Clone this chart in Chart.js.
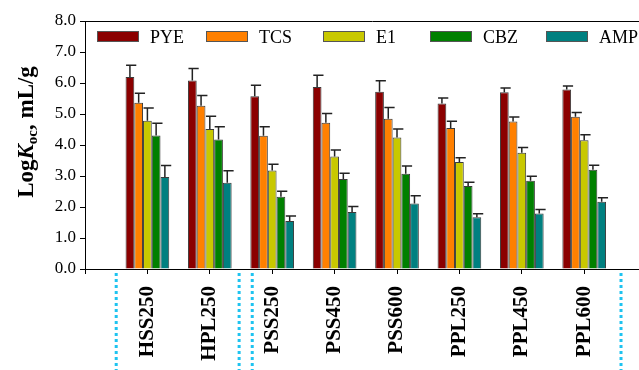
<!DOCTYPE html>
<html>
<head>
<meta charset="utf-8">
<script src="https://cdn.jsdelivr.net/npm/chart.js@4.4.1/dist/chart.umd.min.js"></script>
<style>
  html, body { margin: 0; padding: 0; background: #fff; overflow: hidden; }
  #chart { display: block; }
</style>
</head>
<body>
<canvas id="chart" width="660" height="370"></canvas>
<script>
// samples (an empty slot on each side, like the original axis)
const categories = ['HSS250', 'HPL250', 'PSS250', 'PSS450', 'PSS600', 'PPL250', 'PPL450', 'PPL600'];
const seriesNames = ['PYE', 'TCS', 'E1', 'CBZ', 'AMP'];

const pye = [6.19, 6.08, 5.57, 5.87, 5.72, 5.34, 5.70, 5.79];
const tcs = [5.36, 5.27, 4.30, 4.72, 4.85, 4.55, 4.76, 4.91];
const e1  = [4.78, 4.52, 3.18, 3.63, 4.24, 3.45, 3.75, 4.15];
const cbz = [4.31, 4.18, 2.33, 2.90, 3.07, 2.68, 2.85, 3.20];
const amp = [2.97, 2.78, 1.55, 1.84, 2.11, 1.67, 1.79, 2.17];

const pyeErr = [0.38, 0.39, 0.36, 0.38, 0.35, 0.18, 0.14, 0.11];
const tcsErr = [0.31, 0.33, 0.29, 0.30, 0.36, 0.22, 0.14, 0.14];
const e1Err  = [0.41, 0.41, 0.20, 0.21, 0.28, 0.14, 0.17, 0.18];
const cbzErr = [0.39, 0.41, 0.18, 0.19, 0.25, 0.12, 0.14, 0.15];
const ampErr = [0.37, 0.39, 0.16, 0.18, 0.25, 0.11, 0.13, 0.13];

const yTicks = [0, 1, 2, 3, 4, 5, 6, 7, 8];

// dotted separators below the axis, in category units (0 = left edge slot)
const separators = [0.5, 2.47, 2.68, 8.59];

const colors = ['#8B0000', '#FF8000', '#C8C800', '#008000', '#008080'];
const legendX = [97, 206, 323, 430, 546];

const values = [pye, tcs, e1, cbz, amp];
const errors = [pyeErr, tcsErr, e1Err, cbzErr, ampErr];

const pad = arr => [null, ...arr, null];

const serif = "'Liberation Serif', 'Times New Roman', serif";
Chart.defaults.font.family = serif;
Chart.defaults.color = '#000';

const errorBars = {
  id: 'errorBars',
  afterDatasetsDraw(chart) {
    const ctx = chart.ctx;
    const y = chart.scales.y;
    ctx.save();
    ctx.strokeStyle = '#222';
    ctx.lineWidth = 1.5;
    chart.data.datasets.forEach((ds, i) => {
      const meta = chart.getDatasetMeta(i);
      meta.data.forEach((bar, j) => {
        const v = ds.data[j];
        if (v == null) return;
        const top = y.getPixelForValue(v + ds.err[j]);
        const half = bar.width / 2;
        ctx.beginPath();
        ctx.moveTo(bar.x, bar.y);
        ctx.lineTo(bar.x, top);
        ctx.moveTo(bar.x - half + 0.5, top);
        ctx.lineTo(bar.x + half + 2, top);
        ctx.stroke();
      });
    });
    ctx.restore();
  }
};

const decorations = {
  id: 'decorations',
  afterDraw(chart) {
    const ctx = chart.ctx;
    const area = chart.chartArea;
    const x = chart.scales.x;
    ctx.save();

    // top frame line
    ctx.strokeStyle = '#000';
    ctx.lineWidth = 1;
    ctx.beginPath();
    ctx.moveTo(area.left, area.top + 0.5);
    ctx.lineTo(chart.width, area.top + 0.5);
    ctx.stroke();

    // legend inside plot
    ctx.font = '18px ' + serif;
    ctx.textBaseline = 'alphabetic';
    chart.data.datasets.forEach((ds, i) => {
      const bx = legendX[i];
      ctx.fillStyle = ds.backgroundColor;
      ctx.fillRect(bx, 31, 42, 11);
      ctx.strokeStyle = '#555';
      ctx.lineWidth = 1;
      ctx.strokeRect(bx + 0.5, 31.5, 41, 10);
      ctx.fillStyle = '#000';
      ctx.fillText(ds.label, bx + 53, 43);
    });

    // dotted separators
    const step = x.getPixelForValue(1) - x.getPixelForValue(0);
    ctx.strokeStyle = '#1EC3F0';
    ctx.lineWidth = 3;
    ctx.setLineDash([3, 3]);
    separators.forEach(u => {
      const px = x.getPixelForValue(0) + u * step;
      ctx.beginPath();
      ctx.moveTo(px, 273);
      ctx.lineTo(px, 370);
      ctx.stroke();
    });
    ctx.setLineDash([]);

    // y axis title: Log K_oc, mL/g
    ctx.translate(26, 132);
    ctx.rotate(-Math.PI / 2);
    ctx.fillStyle = '#000';
    ctx.textBaseline = 'alphabetic';
    const parts = [
      { t: 'Log', f: 'bold 23px ' + serif, dy: 0 },
      { t: 'K', f: 'italic bold 23px ' + serif, dy: 0 },
      { t: 'oc', f: 'bold 15px ' + serif, dy: 4 },
      { t: ', mL/g', f: 'bold 23px ' + serif, dy: 0 }
    ];
    let total = 0;
    parts.forEach(p => { ctx.font = p.f; p.w = ctx.measureText(p.t).width; total += p.w; });
    let cx = -total / 2;
    parts.forEach(p => {
      ctx.font = p.f;
      ctx.fillText(p.t, cx, 7 + p.dy);
      cx += p.w;
    });
    ctx.restore();
  }
};

new Chart(document.getElementById('chart'), {
  type: 'bar',
  data: {
    labels: ['', ...categories, ''],
    datasets: seriesNames.map((name, i) => ({
      label: name,
      data: pad(values[i]),
      err: pad(errors[i]),
      backgroundColor: colors[i],
      borderColor: '#3a3a3a',
      borderWidth: 1,
      barPercentage: 1,
      categoryPercentage: 0.7
    }))
  },
  options: {
    responsive: false,
    animation: false,
    layout: { padding: { top: 21, right: 13.4, bottom: 0, left: 0 } },
    plugins: {
      legend: { display: false },
      tooltip: { enabled: false }
    },
    scales: {
      x: {
        offset: false,
        grid: { offset: false, drawOnChartArea: false, drawTicks: true, tickLength: 5, color: '#000' },
        border: { display: true, color: '#000', width: 1 },
        ticks: {
          autoSkip: false,
          maxRotation: 90,
          minRotation: 90,
          padding: 12,
          font: { size: 21, weight: 'bold' }
        },
        afterFit(scale) {
          scale.height = 101;
          scale.paddingLeft = 0;
          scale.paddingRight = 0;
        }
      },
      y: {
        min: 0,
        max: 8,
        afterBuildTicks(scale) { scale.ticks = yTicks.map(v => ({ value: v })); },
        grid: { drawOnChartArea: false, drawTicks: true, tickLength: 5, color: '#000' },
        border: { display: true, color: '#000', width: 1 },
        ticks: {
          padding: 4,
          font: { size: 17 },
          callback: v => v.toFixed(1)
        },
        afterFit(scale) { scale.width = 85; }
      }
    }
  },
  plugins: [errorBars, decorations]
});
</script>
</body>
</html>
